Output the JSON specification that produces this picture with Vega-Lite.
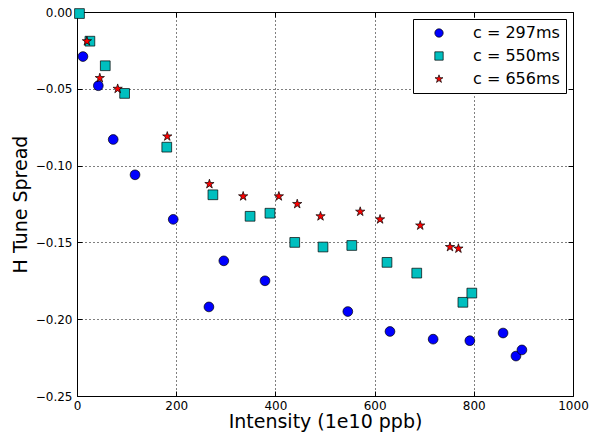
{
  "$schema": "https://vega.github.io/schema/vega-lite/v6.json",
  "width": 496,
  "height": 384,
  "autosize": {"type": "none"},
  "padding": {"left": 77, "top": 12, "right": 18, "bottom": 43},
  "background": "white",
  "config": {
    "font": "DejaVu Sans",
    "view": {"stroke": "black", "strokeWidth": 1},
    "axis": {
      "domain": false,
      "labelFlush": false,
      "labelColor": "black",
      "labelFontSize": 12,
      "labelFont": "DejaVu Sans",
      "titleFont": "DejaVu Sans",
      "titleFontSize": 19,
      "titleFontWeight": "normal",
      "titleColor": "black",
      "tickColor": "black",
      "tickSize": -5,
      "gridColor": "black",
      "gridDash": [1, 3],
      "gridOpacity": 1,
      "gridWidth": 1
    }
  },
  "data": {
    "values": [
      {"series": "c = 297ms", "x": 12, "y": -0.029},
      {"series": "c = 297ms", "x": 43, "y": -0.048},
      {"series": "c = 297ms", "x": 73, "y": -0.083},
      {"series": "c = 297ms", "x": 117, "y": -0.106},
      {"series": "c = 297ms", "x": 194, "y": -0.135},
      {"series": "c = 297ms", "x": 266, "y": -0.192},
      {"series": "c = 297ms", "x": 296, "y": -0.162},
      {"series": "c = 297ms", "x": 379, "y": -0.175},
      {"series": "c = 297ms", "x": 546, "y": -0.195},
      {"series": "c = 297ms", "x": 631, "y": -0.208},
      {"series": "c = 297ms", "x": 718, "y": -0.213},
      {"series": "c = 297ms", "x": 792, "y": -0.214},
      {"series": "c = 297ms", "x": 859, "y": -0.209},
      {"series": "c = 297ms", "x": 885, "y": -0.224},
      {"series": "c = 297ms", "x": 897, "y": -0.220},
      {"series": "c = 550ms", "x": 5, "y": -0.001},
      {"series": "c = 550ms", "x": 26, "y": -0.019},
      {"series": "c = 550ms", "x": 57, "y": -0.035},
      {"series": "c = 550ms", "x": 96, "y": -0.053},
      {"series": "c = 550ms", "x": 181, "y": -0.088},
      {"series": "c = 550ms", "x": 274, "y": -0.119},
      {"series": "c = 550ms", "x": 349, "y": -0.133},
      {"series": "c = 550ms", "x": 389, "y": -0.131},
      {"series": "c = 550ms", "x": 439, "y": -0.150},
      {"series": "c = 550ms", "x": 496, "y": -0.153},
      {"series": "c = 550ms", "x": 554, "y": -0.152},
      {"series": "c = 550ms", "x": 625, "y": -0.163},
      {"series": "c = 550ms", "x": 685, "y": -0.170},
      {"series": "c = 550ms", "x": 778, "y": -0.189},
      {"series": "c = 550ms", "x": 796, "y": -0.183},
      {"series": "c = 656ms", "x": 20, "y": -0.019},
      {"series": "c = 656ms", "x": 46, "y": -0.043},
      {"series": "c = 656ms", "x": 82, "y": -0.050},
      {"series": "c = 656ms", "x": 182, "y": -0.081},
      {"series": "c = 656ms", "x": 267, "y": -0.112},
      {"series": "c = 656ms", "x": 335, "y": -0.120},
      {"series": "c = 656ms", "x": 407, "y": -0.120},
      {"series": "c = 656ms", "x": 444, "y": -0.125},
      {"series": "c = 656ms", "x": 491, "y": -0.133},
      {"series": "c = 656ms", "x": 571, "y": -0.130},
      {"series": "c = 656ms", "x": 611, "y": -0.135},
      {"series": "c = 656ms", "x": 692, "y": -0.139},
      {"series": "c = 656ms", "x": 752, "y": -0.153},
      {"series": "c = 656ms", "x": 769, "y": -0.154}
    ]
  },
  "resolve": {"axis": {"x": "independent", "y": "independent"}},
  "layer": [
    {
      "mark": {"type": "point", "filled": true, "stroke": "black", "strokeWidth": 0.7, "opacity": 1},
      "encoding": {
        "x": {
          "field": "x", "type": "quantitative",
          "scale": {"domain": [0, 1000], "nice": false},
          "axis": {"values": [0, 200, 400, 600, 800, 1000], "title": "Intensity (1e10 ppb)", "labelPadding": 9, "titlePadding": 1, "format": "d"}
        },
        "y": {
          "field": "y", "type": "quantitative",
          "scale": {"domain": [-0.25, 0], "nice": false, "zero": false},
          "axis": {"values": [0, -0.05, -0.1, -0.15, -0.2, -0.25], "format": ".2f", "title": "H Tune Spread", "labelPadding": 10, "titlePadding": 5}
        },
        "color": {
          "field": "series", "type": "nominal",
          "scale": {"domain": ["c = 297ms", "c = 550ms", "c = 656ms"], "range": ["#0000ff", "#00bfbf", "#ff0000"]},
          "legend": {
            "title": null,
            "orient": "top-right",
            "offset": 7,
            "fillColor": "white",
            "strokeColor": "black",
            "padding": 6,
            "labelFontSize": 16,
            "labelColor": "black",
            "labelOffset": 26,
            "symbolOffset": 12,
            "symbolSize": 70,
            "symbolStrokeColor": "black",
            "symbolStrokeWidth": 0.7,
            "symbolOpacity": 1,
            "rowPadding": 7,
            "cornerRadius": 0
          }
        },
        "shape": {
          "field": "series", "type": "nominal",
          "scale": {"domain": ["c = 297ms", "c = 550ms", "c = 656ms"], "range": ["circle", "square", "M0,-1L0.2245,-0.309L0.951,-0.309L0.363,0.118L0.588,0.809L0,0.382L-0.588,0.809L-0.363,0.118L-0.951,-0.309L-0.2245,-0.309Z"]}
        },
        "size": {"value": 95}
      }
    },
    {
      "mark": {"type": "point", "opacity": 0},
      "encoding": {
        "x": {
          "field": "x", "type": "quantitative",
          "axis": {"orient": "top", "values": [0, 200, 400, 600, 800, 1000], "labels": false, "title": null, "grid": false}
        },
        "y": {
          "field": "y", "type": "quantitative",
          "axis": {"orient": "right", "values": [0, -0.05, -0.1, -0.15, -0.2, -0.25], "labels": false, "title": null, "grid": false}
        }
      }
    }
  ]
}
